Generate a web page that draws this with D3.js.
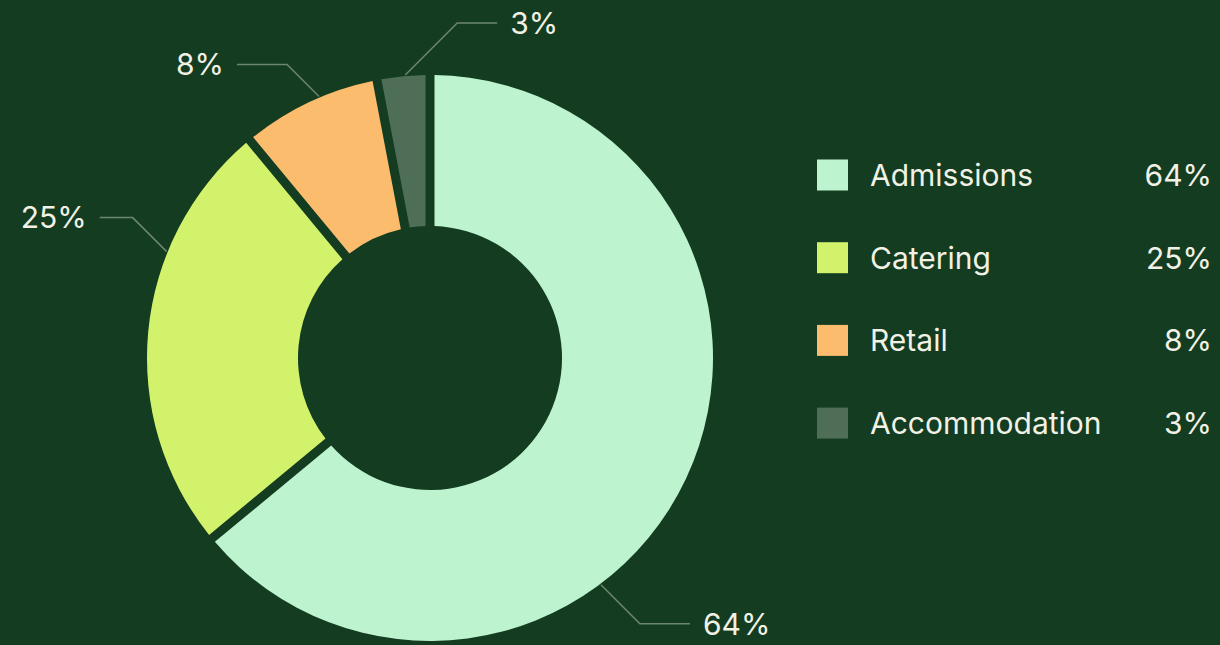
<!DOCTYPE html>
<html>
<head>
<meta charset="utf-8">
<script src="https://cdn.jsdelivr.net/npm/d3@7"></script>
<style>
  html, body { margin: 0; padding: 0; background: #133c20; }
  text { font-family: Inter, "Open Sans", sans-serif; fill: #f1f1e6; }
</style>
</head>
<body>
<svg id="chart" width="1220" height="645"></svg>
<script>
// data
const categories = ["Admissions", "Catering", "Retail", "Accommodation"];
const shares = [64, 25, 8, 3];
const colors = ["#bdf4cf", "#d3f26c", "#fbbc6e", "#4f6e58"];

// callout layout: start angle along each slice (degrees clockwise from top),
// side of the label (1 right, -1 left), length of the 45-degree part and of the flat part
const calloutAngles = [143, 292, 337, 355];
const calloutSides = [1, -1, -1, 1];
const calloutDiags = [39, 34, 32, 52];
const calloutLens = [50, 33, 50, 40];

const width = 1220, height = 645;
const cx = 430, cy = 358;
const outerR = 283, innerR = 132;
const fontSize = "30px";

const svg = d3.select("#chart");

const data = categories.map((c, i) => ({
  name: c, value: shares[i], color: colors[i],
  callout: calloutAngles[i], side: calloutSides[i],
  diag: calloutDiags[i], len: calloutLens[i]
}));

const pie = d3.pie()
    .sort(null)
    .value(d => d.value);

const arc = d3.arc()
    .innerRadius(innerR)
    .outerRadius(outerR)
    .padAngle(9 / outerR)
    .padRadius(outerR);

const g = svg.append("g")
    .attr("transform", "translate(" + cx + "," + cy + ")");

const arcs = pie(data);

g.selectAll("path.slice")
  .data(arcs)
  .enter().append("path")
    .attr("class", "slice")
    .attr("d", arc)
    .attr("fill", d => d.data.color);

// callout lines: 45 degrees out from the slice edge, then horizontal
arcs.forEach(function(d) {
  let a = d.data.callout * Math.PI / 180;
  let x0 = Math.sin(a) * (outerR + 1), y0 = -Math.cos(a) * (outerR + 1);
  let sx = d.data.side, sy = y0 >= 0 ? 1 : -1;
  let x1 = x0 + sx * d.data.diag, y1 = y0 + sy * d.data.diag;
  let x2 = x1 + sx * d.data.len;

  g.append("polyline")
    .attr("points", [[x0, y0], [x1, y1], [x2, y1]].map(p => p.join(",")).join(" "))
    .attr("fill", "none")
    .attr("stroke", "#6d876f")
    .attr("stroke-width", 1.5);

  g.append("text")
    .attr("x", x2 + sx * 13)
    .attr("y", y1)
    .attr("dy", "0.36em")
    .attr("text-anchor", sx > 0 ? "start" : "end")
    .style("font-size", fontSize)
    .text(d.data.value + "%");
});

// legend
const legend = svg.append("g")
    .attr("transform", "translate(817,175)");

const rowH = 82.7;
const rows = legend.selectAll("g.row")
  .data(data)
  .enter().append("g")
    .attr("class", "row")
    .attr("transform", (d, i) => "translate(0," + (i * rowH) + ")");

rows.append("rect")
    .attr("x", 0)
    .attr("y", -15.5)
    .attr("width", 31)
    .attr("height", 31)
    .attr("fill", d => d.color);

rows.append("text")
    .attr("x", 53)
    .attr("dy", "0.36em")
    .style("font-size", fontSize)
    .text(d => d.name);

rows.append("text")
    .attr("x", 395)
    .attr("dy", "0.36em")
    .attr("text-anchor", "end")
    .style("font-size", fontSize)
    .text(d => d.value + "%");
</script>
</body>
</html>
